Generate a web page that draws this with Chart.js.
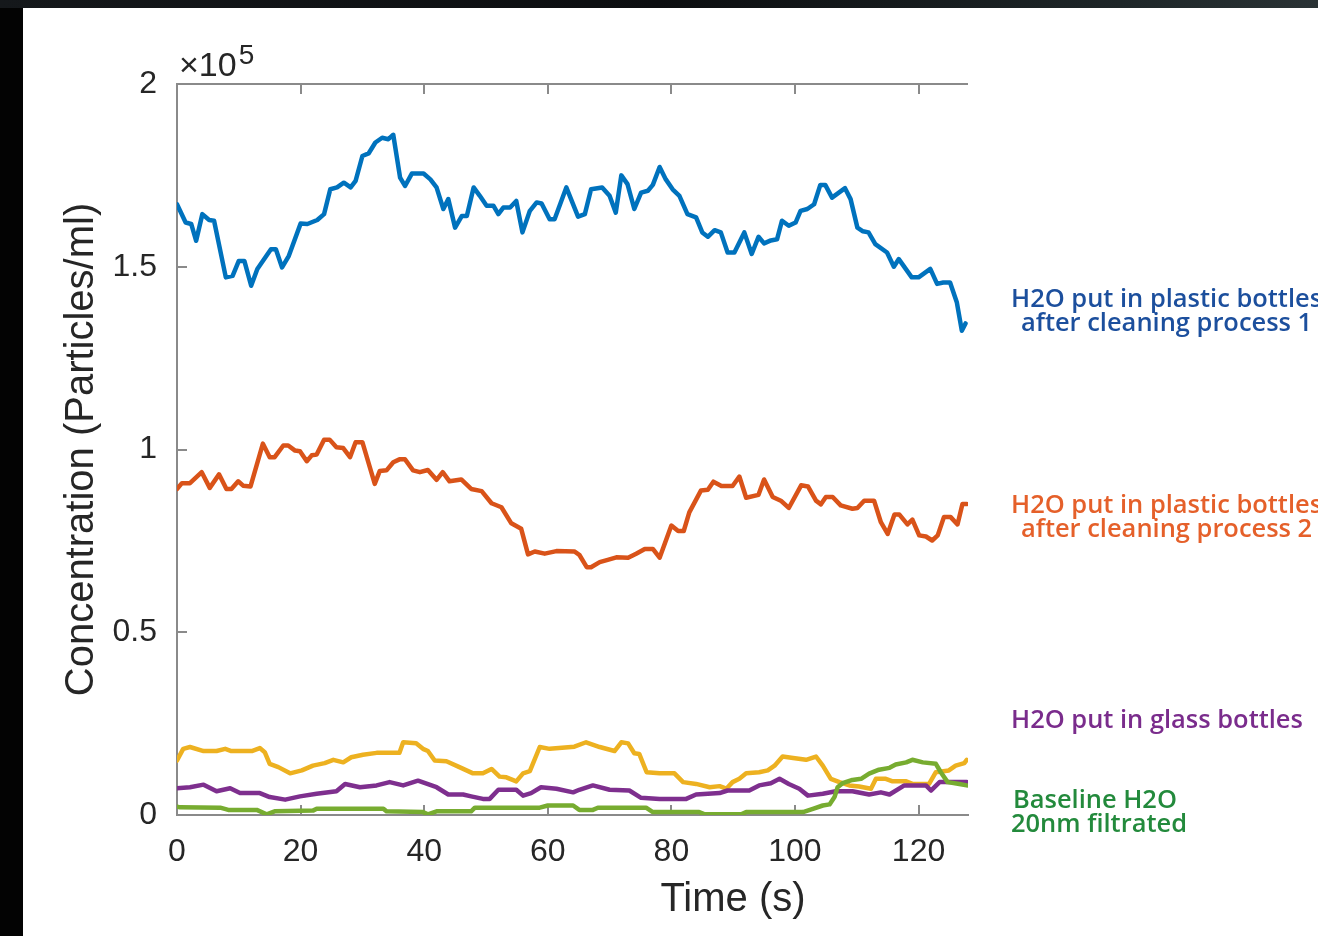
<!DOCTYPE html>
<html>
<head>
<meta charset="utf-8">
<script src="https://cdn.jsdelivr.net/npm/chart.js@4.4.1/dist/chart.umd.min.js"></script>
<style>
  html, body { margin: 0; padding: 0; background: #000; overflow: hidden; }
  #wrap { position: absolute; left: 0; top: 0; width: 1318px; height: 936px; }
</style>
</head>
<body>
<div id="wrap"><canvas id="c" width="1318" height="936"></canvas></div>
<script>
// Particle concentration over time, in units of 1e5 particles/ml: [time (s), value]
const plastic1 = [[0,1.671],[1.4,1.621],[2.3,1.617],[3.1,1.571],[4.1,1.644],[5.2,1.628],[6.0,1.626],[7.9,1.471],[9.0,1.475],[10.0,1.516],[10.9,1.516],[12.0,1.448],[13.0,1.494],[15.2,1.548],[16.0,1.548],[17.0,1.498],[18.1,1.530],[20.0,1.618],[21.1,1.617],[22.7,1.628],[23.8,1.644],[24.8,1.712],[25.9,1.717],[27.0,1.730],[28.1,1.717],[28.9,1.735],[30.0,1.803],[31.0,1.810],[32.1,1.840],[33.2,1.853],[34.2,1.849],[35.0,1.861],[36.1,1.744],[36.9,1.721],[38.0,1.755],[39.9,1.755],[41.0,1.739],[42.0,1.717],[43.1,1.658],[43.9,1.685],[45.0,1.607],[46.1,1.639],[46.9,1.639],[48.0,1.717],[49.0,1.694],[50.1,1.667],[51.2,1.667],[52.0,1.644],[52.8,1.662],[53.9,1.662],[54.9,1.680],[55.9,1.594],[57.1,1.653],[58.2,1.676],[59.0,1.673],[60.3,1.630],[61.1,1.630],[63.0,1.717],[64.9,1.637],[66.0,1.644],[67.0,1.712],[68.8,1.717],[70.0,1.694],[71.0,1.648],[71.9,1.750],[72.9,1.726],[74.0,1.658],[75.1,1.703],[76.2,1.708],[77.0,1.724],[78.1,1.773],[79.1,1.739],[80.2,1.712],[81.3,1.694],[82.6,1.644],[84.0,1.635],[85.0,1.594],[85.9,1.582],[87.0,1.600],[88.0,1.594],[89.1,1.539],[90.2,1.539],[91.8,1.594],[93.0,1.535],[94.1,1.582],[95.0,1.564],[96.1,1.572],[97.1,1.575],[97.9,1.626],[99.0,1.612],[100.1,1.621],[100.9,1.653],[102.0,1.658],[103.1,1.671],[104.1,1.724],[104.9,1.724],[106.0,1.689],[108.1,1.715],[109.0,1.685],[110.1,1.607],[111.0,1.597],[111.9,1.594],[113.0,1.562],[114.9,1.539],[116.0,1.500],[116.8,1.521],[118.9,1.471],[120.0,1.471],[121.9,1.494],[123.0,1.453],[124.0,1.457],[125.1,1.457],[126.2,1.402],[127.0,1.325],[127.6,1.345]];

const plastic2 = [[0,0.892],[0.8,0.908],[2.1,0.908],[4.0,0.938],[5.3,0.895],[6.8,0.932],[8.0,0.892],[8.8,0.892],[9.9,0.913],[10.7,0.901],[11.9,0.899],[13.9,1.016],[15.0,0.979],[15.8,0.979],[17.2,1.011],[18.0,1.011],[19.1,0.997],[19.9,0.995],[21.0,0.968],[21.8,0.984],[22.6,0.986],[23.8,1.027],[24.7,1.027],[25.8,1.006],[26.9,1.004],[28.0,0.979],[28.9,1.020],[30.0,1.020],[32.0,0.906],[32.8,0.941],[33.9,0.943],[35.0,0.965],[36.0,0.973],[36.9,0.973],[38.2,0.943],[39.3,0.938],[40.6,0.944],[42.0,0.917],[43.0,0.938],[44.1,0.913],[46.0,0.918],[47.6,0.892],[49.3,0.886],[50.9,0.853],[52.5,0.842],[54.1,0.798],[55.7,0.783],[56.8,0.713],[57.9,0.721],[59.5,0.715],[61.4,0.722],[64.3,0.721],[65.1,0.712],[66.3,0.678],[67.0,0.678],[68.4,0.692],[69.7,0.698],[71.1,0.705],[73.0,0.704],[74.3,0.715],[75.7,0.728],[77.0,0.728],[78.1,0.704],[80.0,0.792],[81.1,0.777],[82.0,0.777],[82.9,0.828],[84.8,0.888],[85.9,0.890],[86.8,0.912],[88.1,0.900],[89.9,0.900],[91.0,0.926],[92.1,0.868],[94.1,0.876],[95.0,0.918],[96.4,0.870],[97.8,0.859],[99.0,0.840],[101.0,0.902],[102.1,0.899],[103.4,0.860],[104.2,0.850],[105.0,0.870],[106.1,0.870],[107.4,0.847],[109.3,0.838],[110.1,0.840],[111.2,0.860],[112.8,0.860],[113.9,0.801],[115.0,0.769],[116.1,0.822],[116.9,0.822],[118.2,0.795],[119.0,0.808],[120.1,0.765],[121.2,0.762],[122.2,0.751],[123.1,0.765],[124.1,0.815],[125.2,0.815],[126.3,0.795],[127.1,0.851],[127.8,0.851]];

const plastic3 = [[0,0.149],[1.0,0.181],[2.1,0.186],[4.3,0.175],[6.4,0.175],[7.8,0.181],[8.8,0.175],[12.1,0.175],[13.4,0.183],[14.2,0.172],[15.0,0.140],[16.4,0.131],[18.3,0.114],[20.2,0.122],[22.0,0.135],[23.9,0.142],[25.3,0.151],[26.9,0.144],[28.2,0.158],[30.1,0.165],[32.3,0.170],[36.0,0.170],[36.6,0.199],[38.7,0.196],[39.8,0.181],[40.6,0.175],[41.7,0.149],[43.6,0.147],[45.7,0.131],[47.9,0.114],[49.5,0.114],[50.9,0.126],[52.2,0.105],[53.3,0.103],[54.9,0.092],[56.0,0.114],[57.1,0.120],[58.7,0.186],[60.3,0.181],[64.3,0.187],[66.2,0.199],[68.4,0.186],[70.8,0.175],[71.9,0.199],[73.0,0.196],[74.0,0.169],[74.8,0.167],[76.0,0.117],[78.1,0.114],[80.5,0.114],[81.9,0.090],[84.0,0.085],[86.2,0.076],[87.8,0.079],[88.9,0.072],[89.9,0.090],[91.0,0.099],[92.1,0.114],[94.2,0.117],[95.6,0.122],[96.7,0.135],[98.0,0.160],[99.7,0.156],[101.8,0.151],[103.4,0.160],[104.5,0.135],[105.8,0.099],[107.2,0.090],[108.8,0.081],[110.4,0.078],[112.3,0.072],[113.1,0.099],[114.7,0.099],[115.8,0.092],[118.0,0.092],[119.0,0.085],[121.7,0.085],[122.8,0.117],[124.9,0.122],[126.0,0.135],[127.4,0.142],[127.8,0.151]];

const glass = [[0,0.073],[2.1,0.076],[4.3,0.083],[6.4,0.065],[8.6,0.073],[10.2,0.060],[13.4,0.060],[15.0,0.049],[17.5,0.042],[19.9,0.051],[22.6,0.058],[25.8,0.065],[27.2,0.085],[29.6,0.076],[32.3,0.081],[34.4,0.090],[36.6,0.081],[39.0,0.094],[42.0,0.076],[43.9,0.056],[46.3,0.056],[47.6,0.051],[49.5,0.044],[50.6,0.044],[52.0,0.069],[54.9,0.069],[56.0,0.053],[57.3,0.060],[58.9,0.076],[61.4,0.072],[64.1,0.062],[65.1,0.069],[67.3,0.081],[70.0,0.069],[73.2,0.067],[75.1,0.047],[78.1,0.044],[82.4,0.044],[84.0,0.056],[87.8,0.060],[89.1,0.067],[92.6,0.067],[94.2,0.081],[96.1,0.087],[97.5,0.099],[99.0,0.085],[100.7,0.072],[102.1,0.053],[104.5,0.058],[106.6,0.065],[109.3,0.065],[112.0,0.056],[113.9,0.062],[115.3,0.056],[117.7,0.081],[121.2,0.081],[122.0,0.067],[123.4,0.090],[127.8,0.090]];

const baseline = [[0,0.023],[0.5,0.021],[7.0,0.020],[8.3,0.014],[12.9,0.014],[14.5,0.002],[15.8,0.010],[22.0,0.012],[22.6,0.017],[33.4,0.017],[33.9,0.010],[39.8,0.008],[40.6,0.002],[42.0,0.010],[47.6,0.010],[48.2,0.020],[58.7,0.020],[60.0,0.026],[64.1,0.026],[65.1,0.014],[67.3,0.014],[68.1,0.020],[75.9,0.020],[77.0,0.008],[84.5,0.008],[85.4,0.002],[91.3,0.002],[92.1,0.008],[101.3,0.008],[102.9,0.017],[104.5,0.026],[105.6,0.029],[106.4,0.049],[106.9,0.076],[107.7,0.087],[109.3,0.096],[110.7,0.099],[112.0,0.113],[113.6,0.124],[115.3,0.129],[116.3,0.138],[118.0,0.144],[119.0,0.151],[120.7,0.144],[122.8,0.140],[123.6,0.117],[124.7,0.090],[126.6,0.085],[127.8,0.081]];

const xTickValues = [0, 20, 40, 60, 80, 100, 120];
const yTickValues = [0, 0.5, 1, 1.5, 2];
const yTickLabels = ['0', '0.5', '1', '1.5', '2'];

const axisFont = 'Liberation Sans, Arial, Helvetica, sans-serif';
const labelFontFamily = '"Open Sans", "Noto Sans", sans-serif';
const textColor = '#262626';
const axisColor = '#8a8a8a';

const seriesDefs = [
  { name: 'H2O put in plastic bottles after cleaning process 1', pts: plastic1, color: '#0072BD', order: 5 },
  { name: 'H2O put in plastic bottles after cleaning process 2', pts: plastic2, color: '#D95319', order: 4 },
  { name: 'H2O put in plastic bottles', pts: plastic3, color: '#EDB120', order: 3 },
  { name: 'H2O put in glass bottles', pts: glass, color: '#7E2F8E', order: 2 },
  { name: 'Baseline H2O 20nm filtrated', pts: baseline, color: '#77AC30', order: 1 }
];

// Dark photo frame around the white figure panel
const framePlugin = {
  id: 'frame',
  beforeDraw(chart) {
    const ctx = chart.ctx;
    ctx.save();
    const g = ctx.createLinearGradient(0, 0, 1318, 0);
    g.addColorStop(0, '#15181b');
    g.addColorStop(0.5, '#0c0e10');
    g.addColorStop(0.85, '#1e2628');
    g.addColorStop(1, '#2a3335');
    ctx.fillStyle = g;
    ctx.fillRect(0, 0, 1318, 936);
    ctx.fillStyle = '#030303';
    ctx.fillRect(0, 8, 23, 928);
    ctx.fillStyle = '#ffffff';
    ctx.fillRect(23, 8, 1295, 928);
    ctx.restore();
  }
};

// Top axis line, inward tick marks, axis titles and captions
const axesPlugin = {
  id: 'axesExtras',
  beforeDatasetsDraw(chart) {
    const { ctx, chartArea: a, scales: { x, y } } = chart;
    ctx.save();
    ctx.strokeStyle = axisColor;
    ctx.lineWidth = 2;
    ctx.beginPath();
    ctx.moveTo(a.left, a.top);
    ctx.lineTo(a.right, a.top);
    const tl = 10;
    xTickValues.forEach(v => {
      if (v === 0) return;
      const px = Math.round(x.getPixelForValue(v));
      ctx.moveTo(px, a.bottom);
      ctx.lineTo(px, a.bottom - tl);
      ctx.moveTo(px, a.top);
      ctx.lineTo(px, a.top + tl);
    });
    yTickValues.forEach(v => {
      if (v === 0 || v === 2) return;
      const py = Math.round(y.getPixelForValue(v));
      ctx.moveTo(a.left, py);
      ctx.lineTo(a.left + tl, py);
    });
    ctx.stroke();
    ctx.restore();
  },
  afterDraw(chart) {
    const { ctx, chartArea: a } = chart;
    ctx.save();
    ctx.fillStyle = textColor;

    // x axis title
    ctx.font = '40px ' + axisFont;
    ctx.textAlign = 'center';
    ctx.textBaseline = 'middle';
    ctx.fillText('Time (s)', 733, 900);

    // exponent marker of the y axis
    ctx.textBaseline = 'alphabetic';
    ctx.textAlign = 'left';
    ctx.font = '34px ' + axisFont;
    ctx.fillText('\u00D710', a.left + 2, 76);
    const w = ctx.measureText('\u00D710').width;
    ctx.font = '28px ' + axisFont;
    ctx.fillText('5', a.left + 4 + w, 64);

    // series captions to the right of the plot
    ctx.font = '600 100px ' + labelFontFamily;
    const ref = ctx.measureText('H2O put in glass bottles').width;
    const size = 100 * 292 / ref;
    ctx.font = '600 ' + size.toFixed(2) + 'px ' + labelFontFamily;
    ctx.textBaseline = 'middle';
    const x0 = 1011;
    const centred = (l1, l2, y1, y2, color) => {
      ctx.fillStyle = color;
      ctx.textAlign = 'left';
      ctx.fillText(l1, x0, y1);
      const cx = x0 + ctx.measureText(l1).width / 2;
      ctx.textAlign = 'center';
      ctx.fillText(l2, cx, y2);
    };
    centred('H2O put in plastic bottles', 'after cleaning process 1', 300, 324, '#1c4f9d');
    centred('H2O put in plastic bottles', 'after cleaning process 2', 506, 530, '#e5602a');
    ctx.textAlign = 'left';
    ctx.fillStyle = '#7a2c8c';
    ctx.fillText('H2O put in glass bottles', x0, 721);
    ctx.fillStyle = '#238a3c';
    ctx.fillText('Baseline H2O', x0 + 2, 801);
    ctx.fillText('20nm filtrated', x0, 825);
    ctx.restore();
  }
};

const chart = new Chart(document.getElementById('c'), {
  type: 'line',
  data: {
    datasets: seriesDefs.map(s => ({
      label: s.name,
      data: s.pts.map(([t, v]) => ({ x: t, y: v })),
      borderColor: s.color,
      backgroundColor: s.color,
      borderWidth: 4.5,
      pointRadius: 0,
      tension: 0,
      fill: false,
      order: s.order,
      borderJoinStyle: 'round',
      borderCapStyle: 'round'
    }))
  },
  options: {
    responsive: false,
    animation: false,
    devicePixelRatio: 1,
    layout: { padding: { left: 0, top: 84, right: 350, bottom: 0 } },
    plugins: { legend: { display: false }, tooltip: { enabled: false } },
    scales: {
      x: {
        type: 'linear',
        min: 0,
        max: 128,
        afterFit: s => { s.height = 121; },
        afterBuildTicks: s => { s.ticks = xTickValues.map(v => ({ value: v })); },
        grid: { display: false },
        border: { display: true, color: axisColor, width: 2 },
        ticks: {
          includeBounds: false, autoSkip: false, maxRotation: 0,
          color: textColor, padding: 10,
          font: { family: axisFont, size: 32 },
          callback: v => String(v)
        },
        title: { display: false }
      },
      y: {
        min: 0,
        max: 2,
        afterFit: s => { s.width = 177; },
        afterBuildTicks: s => { s.ticks = yTickValues.map(v => ({ value: v })); },
        grid: { display: false },
        border: { display: true, color: axisColor, width: 2 },
        ticks: {
          includeBounds: false, color: textColor, padding: 12,
          font: { family: axisFont, size: 32 },
          callback: (v, i) => yTickLabels[i]
        },
        title: {
          display: true, text: 'Concentration (Particles/ml)', color: textColor,
          font: { family: axisFont, size: 40 },
          padding: { top: 58, bottom: 0 }
        }
      }
    }
  },
  plugins: [framePlugin, axesPlugin]
});
</script>
</body>
</html>
